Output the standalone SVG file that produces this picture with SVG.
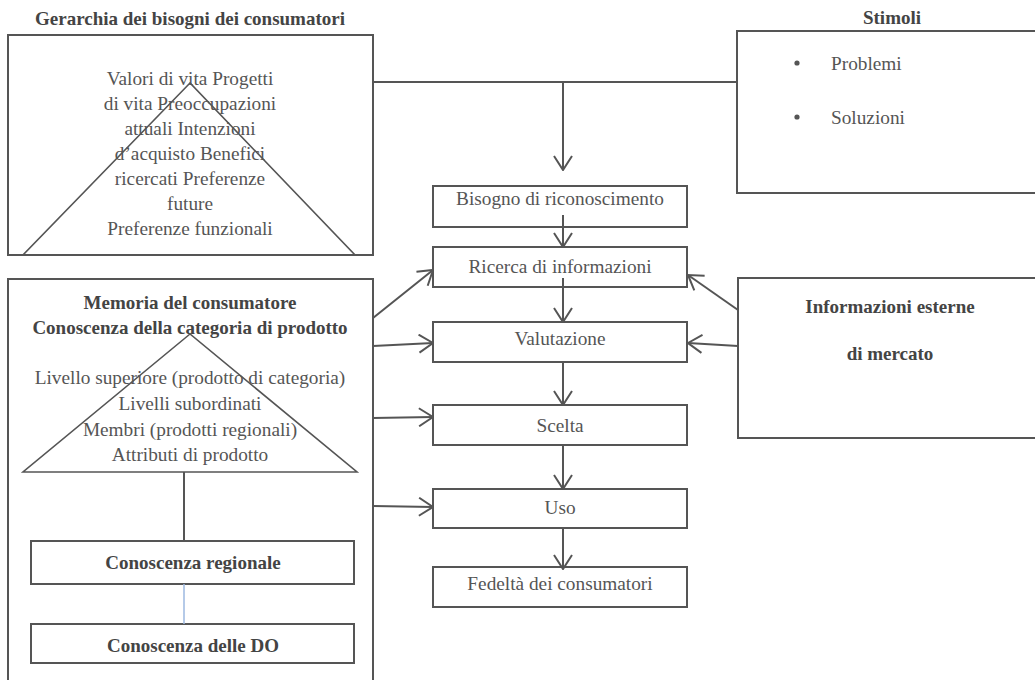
<svg xmlns="http://www.w3.org/2000/svg" width="1035" height="680" viewBox="0 0 1035 680">
<defs>
<marker id="ah" markerWidth="16" markerHeight="20" refX="15" refY="10" orient="auto" markerUnits="userSpaceOnUse">
<path d="M1,1 L15,10 L1,19" fill="none" stroke="#555" stroke-width="2"/>
</marker>
<style>
.box{fill:#fff;stroke:#555;stroke-width:2}
.tri{fill:none;stroke:#555;stroke-width:1.6}
text{font-family:'Liberation Serif','Times New Roman','DejaVu Serif',serif}
.t{font-size:19.3px;fill:#555;text-anchor:middle;dominant-baseline:central}
.b{font-size:19px;font-weight:bold;fill:#444;text-anchor:middle;dominant-baseline:central}
.ln{fill:none;stroke:#555;stroke-width:2}
.ar{fill:none;stroke:#555;stroke-width:2;marker-end:url(#ah)}
</style>
</defs>
<rect width="1035" height="680" fill="#fff"/>
<g id="gerarchia">
<text class="b" x="190" y="18">Gerarchia dei bisogni dei consumatori</text>
<rect class="box" x="8" y="35" width="365" height="220"/>
<polygon class="tri" points="190,83 23,255 355,255"/>
<text class="t" x="190" y="78">Valori di vita Progetti</text>
<text class="t" x="190" y="103">di vita Preoccupazioni</text>
<text class="t" x="190" y="128">attuali Intenzioni</text>
<text class="t" x="190" y="153">d’acquisto Benefici</text>
<text class="t" x="190" y="178">ricercati Preferenze</text>
<text class="t" x="190" y="203">future</text>
<text class="t" x="190" y="228">Preferenze funzionali</text>
</g>
<g id="stimoli">
<text class="b" x="892" y="17">Stimoli</text>
<rect class="box" x="737" y="31" width="305" height="162"/>
<circle cx="797" cy="63" r="2.6" fill="#555"/>
<circle cx="797" cy="117" r="2.6" fill="#555"/>
<text class="t" x="831" y="63" style="text-anchor:start">Problemi</text>
<text class="t" x="831" y="117" style="text-anchor:start">Soluzioni</text>
</g>
<g id="memoria">
<rect class="box" x="8" y="279" width="365" height="410"/>
<text class="b" x="190" y="302">Memoria del consumatore</text>
<text class="b" x="190" y="327">Conoscenza della categoria di prodotto</text>
<polygon class="tri" points="190,334 23,472 357,472"/>
<text class="t" x="190" y="377">Livello superiore (prodotto di categoria)</text>
<text class="t" x="190" y="403">Livelli subordinati</text>
<text class="t" x="190" y="429">Membri (prodotti regionali)</text>
<text class="t" x="190" y="454">Attributi di prodotto</text>
</g>
<g id="regionale">
<rect class="box" x="31" y="541" width="323" height="43"/>
<text class="b" x="193" y="562">Conoscenza regionale</text>
</g>
<g id="do">
<rect class="box" x="31" y="624" width="323" height="39"/>
<text class="b" x="193" y="645">Conoscenza delle DO</text>
</g>
<g id="info">
<rect class="box" x="738" y="278" width="305" height="160"/>
<text class="b" x="890" y="306">Informazioni esterne</text>
<text class="b" x="890" y="353">di mercato</text>
</g>
<g id="bisogno">
<rect class="box" x="433" y="186" width="254" height="41"/>
<text class="t" x="560" y="198">Bisogno di riconoscimento</text>
</g>
<g id="ricerca">
<rect class="box" x="433" y="247" width="254" height="40"/>
<text class="t" x="560" y="266">Ricerca di informazioni</text>
</g>
<g id="valutazione">
<rect class="box" x="433" y="322" width="254" height="40"/>
<text class="t" x="560" y="338">Valutazione</text>
</g>
<g id="scelta">
<rect class="box" x="433" y="405" width="254" height="40"/>
<text class="t" x="560" y="425">Scelta</text>
</g>
<g id="uso">
<rect class="box" x="433" y="489" width="254" height="39"/>
<text class="t" x="560" y="507">Uso</text>
</g>
<g id="fedelta">
<rect class="box" x="433" y="567" width="254" height="40"/>
<text class="t" x="560" y="583">Fedeltà dei consumatori</text>
</g>
<g id="connectors">
<path class="ln" d="M373,82 H737"/>
<path class="ar" d="M563,82 V170"/>
<path class="ar" d="M563,215 V247"/>
<path class="ar" d="M563,278 V322"/>
<path class="ar" d="M563,362 V405"/>
<path class="ar" d="M563,445 V489"/>
<path class="ar" d="M563,528 V569"/>
<path class="ar" d="M373,318 L433,270"/>
<path class="ar" d="M373,346 L433,343"/>
<path class="ar" d="M373,418 L433,417"/>
<path class="ar" d="M373,506 L433,507"/>
<path class="ar" d="M738,310 L688,275"/>
<path class="ar" d="M738,346 L688,343"/>
<path class="ln" d="M184,472 V541"/>
<path d="M184,584 V624" fill="none" stroke="#9db8e0" stroke-width="1.5"/>
</g>
</svg>
